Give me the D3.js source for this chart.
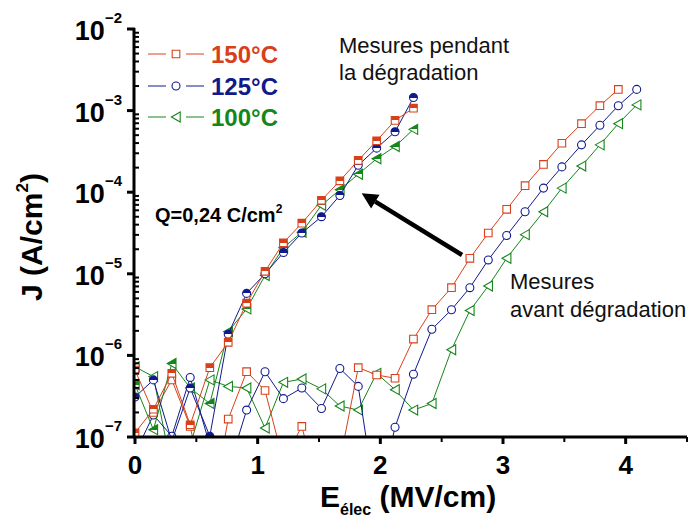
<!DOCTYPE html>
<html>
<head>
<meta charset="utf-8">
<script src="https://cdn.jsdelivr.net/npm/d3@7"></script>
<style>
  html, body { margin: 0; padding: 0; background: #fff; }
  svg { display: block; }
  text { font-family: "Liberation Sans", Arial, sans-serif; }
</style>
</head>
<body>
<svg id="chart" width="697" height="517"></svg>
<script>
// ---------- DATA (E in MV/cm, values are log10 of J in A/cm²) ----------
const E = [0, 0.15, 0.30, 0.45, 0.61, 0.76, 0.91, 1.06, 1.21, 1.36, 1.52, 1.67, 1.82, 1.97,
           2.12, 2.27, 2.42, 2.58, 2.73, 2.88, 3.03, 3.18, 3.33, 3.48, 3.64, 3.79, 3.94, 4.09];

// Mesures avant dégradation (open markers)
const before150 = [-6.18, -6.70, -6.30, -6.87, -8.0, -6.78, -6.20, -6.43, -7.3, -6.87, -7.8, -7.3, -6.15, -6.24,
                   -6.28, -5.80, -5.44, -5.17, -4.81, -4.50, -4.21, -3.92, -3.66, -3.40, -3.16, -2.94, -2.74];
const before125 = [-7.2, -6.73, -6.99, -6.27, -7.1, -7.4, -6.67, -6.20, -6.53, -6.40, -6.65, -6.16, -6.38, -7.85,
                   -6.88, -6.23, -5.68, -5.44, -5.17, -4.83, -4.53, -4.24, -3.95, -3.69, -3.42, -3.18, -2.94, -2.74];
const before100 = [-6.14, -6.26, -7.4, -7.1, -6.30, -6.38, -6.40, -6.89, -6.33, -6.29, -6.41, -6.62, -6.67, -6.22,
                   -6.42, -6.67, -6.59, -5.93, -5.45, -5.15, -4.81, -4.52, -4.24, -3.95, -3.68, -3.42, -3.16, -2.93];

// Mesures pendant la dégradation (half-filled markers)
const during150 = [-6.95, -6.66, -6.22, -6.85, -6.15, -5.84, -5.36, -4.97, -4.62, -4.38, -4.10, -3.86, -3.61, -3.37, -3.12, -2.97];
const during125 = [-6.51, -6.30, -7.05, -6.40, -6.99, -5.74, -5.24, -5.00, -4.74, -4.50, -4.30, -4.04, -3.67, -3.46, -3.26, -2.84];
const during100 = [-6.36, -6.91, -6.10, -6.40, -6.59, -5.71, -5.43, -5.02, -4.68, -4.49, -4.16, -3.97, -3.78, -3.59, -3.44, -3.23];

const seriesNames = ["150°C", "125°C", "100°C"];
const seriesColors = ["#d8401a", "#101a8c", "#15861a"];
const seriesShapes = ["square", "circle", "triangle"];

const xTicks = [0, 1, 2, 3, 4];
const xMinorTicks = [0.5, 1.5, 2.5, 3.5, 4.5];
const yTickExps = [-7, -6, -5, -4, -3, -2];

// ---------- LAYOUT ----------
const svg = d3.select("#chart");
const pL = 135, pR = 687, pT = 29, pB = 437;

const x = d3.scaleLinear().domain([0, 4.5]).range([pL, pR]);
const y = d3.scaleLog().domain([1e-7, 1e-2]).range([pB, pT]);
const yv = v => y(Math.pow(10, v));

// defs: clip + half-fill gradients
const defs = svg.append("defs");
defs.append("clipPath").attr("id", "plotclip")
  .append("rect").attr("x", pL).attr("y", pT).attr("width", pR - pL).attr("height", pB - pT - 1);
seriesColors.forEach((c, i) => {
  const g = defs.append("linearGradient").attr("id", "half" + i)
    .attr("x1", 0).attr("y1", 0).attr("x2", 0).attr("y2", 1);
  g.append("stop").attr("offset", "0.5").attr("stop-color", c);
  g.append("stop").attr("offset", "0.5").attr("stop-color", "#fff");
});

function symbolPath(shape) {
  if (shape === "square") return "M-3.8,-3.8H3.8V3.8H-3.8Z";
  if (shape === "circle") return d3.symbol().type(d3.symbolCircle).size(50)();
  return "M-4.6,0L4.2,-5L4.2,5Z"; // left-pointing triangle
}

const plot = svg.append("g").attr("clip-path", "url(#plotclip)");
const line = d3.line().x(d => x(d[0])).y(d => yv(d[1]));

function drawSeries(vals, i, fill) {
  const pts = vals.map((v, k) => [E[k], v]);
  plot.append("path").datum(pts)
    .attr("fill", "none").attr("stroke", seriesColors[i]).attr("stroke-width", 1)
    .attr("d", line);
  plot.append("g").selectAll("path").data(pts).enter().append("path")
    .attr("transform", d => `translate(${x(d[0])},${yv(d[1])})`)
    .attr("d", symbolPath(seriesShapes[i]))
    .attr("fill", fill).attr("stroke", seriesColors[i]).attr("stroke-width", 1.1);
}

const befores = [before150, before125, before100];
const durings = [during150, during125, during100];
[2, 1, 0].forEach(i => drawSeries(befores[i], i, "#fff"));
[2, 1, 0].forEach(i => drawSeries(durings[i], i, `url(#half${i})`));

// ---------- AXES ----------
const ax = svg.append("g");
// x axis
ax.append("line").attr("x1", pL - 2).attr("x2", pR).attr("y1", pB).attr("y2", pB)
  .attr("stroke", "#000").attr("stroke-width", 3);
xTicks.forEach(t => {
  ax.append("line").attr("x1", x(t)).attr("x2", x(t)).attr("y1", pB).attr("y2", pB + 7)
    .attr("stroke", "#000").attr("stroke-width", 3);
  ax.append("text").attr("x", x(t)).attr("y", pB + 37).attr("text-anchor", "middle")
    .attr("font-size", 26).attr("font-weight", "bold").text(t);
});
xMinorTicks.forEach(t => {
  ax.append("line").attr("x1", x(t)).attr("x2", x(t)).attr("y1", pB).attr("y2", pB + 5)
    .attr("stroke", "#000").attr("stroke-width", 2);
});
// y axis
ax.append("line").attr("x1", pL - 1).attr("x2", pL - 1).attr("y1", pT - 1).attr("y2", pB + 1)
  .attr("stroke", "#000").attr("stroke-width", 3);
yTickExps.forEach(e => {
  const yy = y(Math.pow(10, e));
  ax.append("line").attr("x1", pL - 8).attr("x2", pL).attr("y1", yy).attr("y2", yy)
    .attr("stroke", "#000").attr("stroke-width", 3);
  const t = ax.append("text").attr("x", 122).attr("y", yy + 11).attr("text-anchor", "end")
    .attr("font-weight", "bold");
  t.append("tspan").attr("font-size", 27).text("10");
  t.append("tspan").attr("font-size", 15).attr("dy", -17).text("\u2212" + Math.abs(e));
  if (e < -2) {
    for (let m = 2; m <= 9; m++) {
      const ym = y(m * Math.pow(10, e));
      ax.append("line").attr("x1", pL).attr("x2", pL + 4).attr("y1", ym).attr("y2", ym)
        .attr("stroke", "#000").attr("stroke-width", 2);
    }
  }
});

// axis titles
const xt = svg.append("text").attr("x", 320).attr("y", 507).attr("font-weight", "bold").attr("font-size", 30);
xt.append("tspan").text("E");
xt.append("tspan").attr("font-size", 16).attr("dy", 8).text("élec");
xt.append("tspan").attr("dy", -8).text(" (MV/cm)");

const yt = svg.append("text").attr("transform", "translate(42,237) rotate(-90)")
  .attr("text-anchor", "middle").attr("font-weight", "bold").attr("font-size", 30);
yt.append("tspan").text("J (A/cm");
yt.append("tspan").attr("font-size", 17).attr("dy", -14).text("2");
yt.append("tspan").attr("dy", 14).text(")");

// ---------- LEGEND ----------
const legRows = [54, 86, 117];
seriesNames.forEach((n, i) => {
  const g = svg.append("g").attr("transform", `translate(0,${legRows[i]})`);
  g.append("line").attr("x1", 148).attr("x2", 166).attr("stroke", seriesColors[i]).attr("stroke-width", 1);
  g.append("line").attr("x1", 186).attr("x2", 204).attr("stroke", seriesColors[i]).attr("stroke-width", 1);
  g.append("path").attr("transform", "translate(176,0)").attr("d", symbolPath(seriesShapes[i]))
    .attr("fill", "#fff").attr("stroke", seriesColors[i]).attr("stroke-width", 1.1);
  g.append("text").attr("x", 211).attr("y", 9).attr("font-size", 24).attr("font-weight", "bold")
    .attr("fill", seriesColors[i]).text(n);
});

// ---------- ANNOTATIONS ----------
const ann = svg.append("g").attr("font-size", 22).attr("fill", "#111");
ann.append("text").attr("x", 339).attr("y", 53).text("Mesures pendant");
ann.append("text").attr("x", 339).attr("y", 80).text("la dégradation");
ann.append("text").attr("x", 510).attr("y", 289).text("Mesures");
ann.append("text").attr("x", 510).attr("y", 317).text("avant dégradation");

const q = svg.append("text").attr("x", 155).attr("y", 222).attr("font-size", 20).attr("font-weight", "bold");
q.append("tspan").text("Q=0,24 C/cm");
q.append("tspan").attr("font-size", 12).attr("dy", -9).text("2");

// arrow (in data coordinates)
const tail = [x(2.666), yv(-4.77)], tip = [x(1.848), yv(-4.013)];
const ang = Math.atan2(tip[1] - tail[1], tip[0] - tail[0]);
const hl = 16, hw = 8;
const base = [tip[0] - hl * Math.cos(ang), tip[1] - hl * Math.sin(ang)];
svg.append("line").attr("x1", tail[0]).attr("y1", tail[1]).attr("x2", base[0]).attr("y2", base[1])
  .attr("stroke", "#000").attr("stroke-width", 4.5);
svg.append("path").attr("d", `M${tip[0]},${tip[1]}L${base[0] + hw * Math.sin(ang)},${base[1] - hw * Math.cos(ang)}L${base[0] - hw * Math.sin(ang)},${base[1] + hw * Math.cos(ang)}Z`)
  .attr("fill", "#000");
</script>
</body>
</html>
